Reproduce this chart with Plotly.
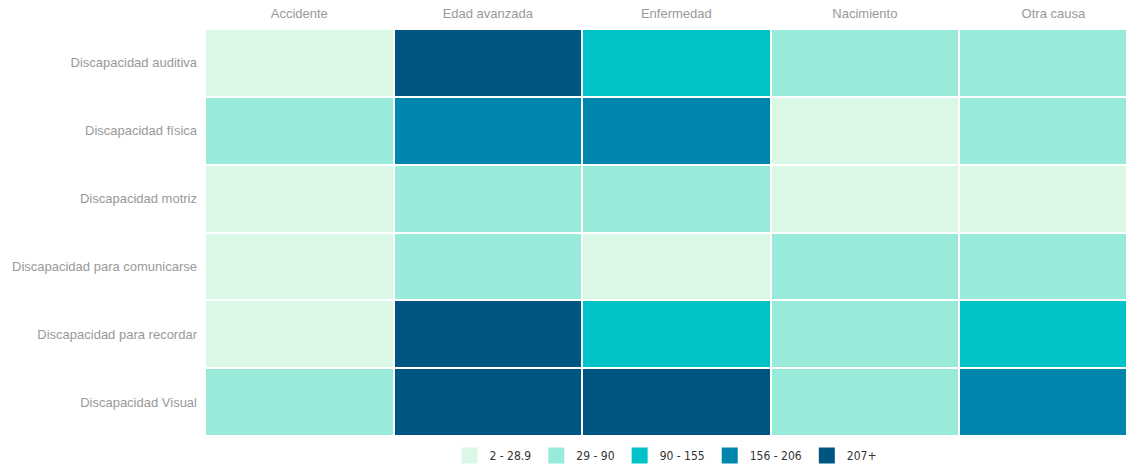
import plotly.graph_objects as go

causes = ["Accidente", "Edad avanzada", "Enfermedad", "Nacimiento", "Otra causa"]
disabilities = [
    "Discapacidad auditiva",
    "Discapacidad física",
    "Discapacidad motriz",
    "Discapacidad para comunicarse",
    "Discapacidad para recordar",
    "Discapacidad Visual",
]
auditiva = [15, 260, 120, 45, 40]
fisica = [60, 180, 175, 20, 50]
motriz = [12, 55, 50, 8, 10]
comunicarse = [5, 35, 25, 40, 35]
recordar = [10, 230, 130, 60, 100]
visual = [70, 300, 280, 55, 170]

bin_labels = ["2 - 28.9", "29 - 90", "90 - 155", "156 - 206", "207+"]
bin_edges = [2, 28.95, 90, 155.5, 206.5, 300]
bin_colors = ["#dbf7e6", "#98eadb", "#00c3c8", "#0086ad", "#005583"]

z = [auditiva, fisica, motriz, comunicarse, recordar, visual]

zmin, zmax = bin_edges[0], bin_edges[-1]
colorscale = []
for i, c in enumerate(bin_colors):
    lo = (bin_edges[i] - zmin) / (zmax - zmin)
    hi = (bin_edges[i + 1] - zmin) / (zmax - zmin)
    colorscale.append([max(lo, 0), c])
    colorscale.append([min(hi, 1), c])

fig = go.Figure()
fig.add_trace(go.Heatmap(
    z=z, x=causes, y=disabilities,
    zmin=zmin, zmax=zmax, colorscale=colorscale,
    showscale=False, xgap=2, ygap=2,
    hovertemplate="%{y}<br>%{x}: %{z}<extra></extra>",
))
for lab, c in zip(bin_labels, bin_colors):
    fig.add_trace(go.Scatter(
        x=[None], y=[None], mode="markers", name=lab,
        marker=dict(symbol="square", size=16, color=c),
        showlegend=True,
    ))

fig.update_layout(
    width=1126, height=470,
    margin=dict(l=205, r=0, t=29, b=33),
    plot_bgcolor="white", paper_bgcolor="white",
    font=dict(family="Liberation Sans, Arial, sans-serif", size=13, color="#999999"),
    xaxis=dict(side="top", range=[-0.5, 4.385], showgrid=False, zeroline=False,
               ticks="", showline=False, automargin=False, ticklabelstandoff=7,
               tickfont=dict(size=13, color="#999999")),
    yaxis=dict(autorange="reversed", showgrid=False, zeroline=False, ticks="",
               showline=False, automargin=False, ticklabelstandoff=7,
               tickfont=dict(size=13, color="#999999")),
    legend=dict(orientation="h", x=0.5, xanchor="center", y=-0.012, yanchor="top",
                font=dict(family="Liberation Sans Narrow, DejaVu Sans Condensed, Liberation Sans, sans-serif",
                          size=12, color="#333333"),
                itemclick=False, itemdoubleclick=False),
)
fig.write_html("out.html", config={"displayModeBar": False},
               post_script="document.body.style.margin='0px';")
